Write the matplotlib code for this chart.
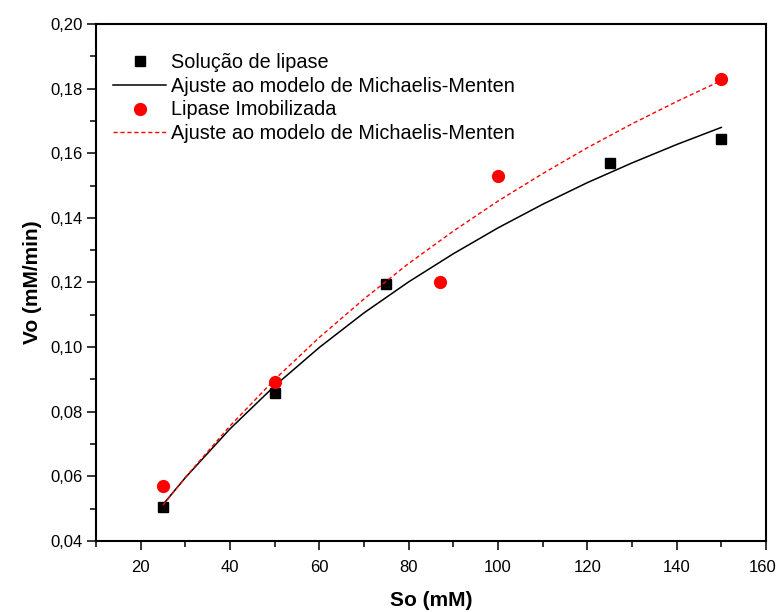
import matplotlib
matplotlib.use("Agg")
import matplotlib.pyplot as plt
from matplotlib.ticker import MultipleLocator, FuncFormatter

plt.rcParams['font.family'] = ['Liberation Sans', 'DejaVu Sans']

# Measured data
so_sol = [25, 50, 75, 125, 150]
vo_sol = [0.0506, 0.0859, 0.1195, 0.1569, 0.1645]

so_imob = [25, 50, 87, 100, 150]
vo_imob = [0.0571, 0.0891, 0.1202, 0.1531, 0.1831]

# Fit curves
fit_x = [25, 30, 40, 50, 60, 70, 80, 90, 100, 110, 120, 130, 140, 150]
fit_sol = [0.0513, 0.0596, 0.0747, 0.0880, 0.0999, 0.1106, 0.1202,
           0.1289, 0.1369, 0.1442, 0.1509, 0.1570, 0.1627, 0.1680]
fit_imob = [0.0511, 0.0597, 0.0756, 0.0900, 0.1030, 0.1149, 0.1259,
            0.1359, 0.1452, 0.1537, 0.1617, 0.1691, 0.1760, 0.1825]

labels = ["Solução de lipase", "Ajuste ao modelo de Michaelis-Menten",
          "Lipase Imobilizada", "Ajuste ao modelo de Michaelis-Menten"]

XMIN, XMAX = 10, 160

fig = plt.figure(figsize=(7.78, 6.12), dpi=100)
ax = fig.add_axes([96/778, 71/612, 670/778, 517/612])

ax.plot(so_sol, vo_sol, linestyle='none', marker='s', markersize=7.8,
        color='black', label=labels[0])
ax.plot(fit_x, fit_sol, color='black', linewidth=1.1, label=labels[1])
ax.plot(so_imob, vo_imob, linestyle='none', marker='o', markersize=8.5,
        color='#ff0000', label=labels[2])
ax.plot(fit_x, fit_imob, color='#ff0000', linewidth=1.0,
        linestyle=(0, (3, 2)), label=labels[3])

ax.set_xlim(XMIN, XMAX)
ax.set_ylim(0.04, 0.20)
ax.xaxis.set_major_locator(MultipleLocator(20))
ax.xaxis.set_minor_locator(MultipleLocator(10))
ax.yaxis.set_major_locator(MultipleLocator(0.02))
ax.yaxis.set_minor_locator(MultipleLocator(0.01))
ax.yaxis.set_major_formatter(FuncFormatter(lambda v, p: f"{v:.2f}".replace('.', ',')))
# the right-most label is drawn separately so it stays inside the canvas
ax.xaxis.set_major_formatter(FuncFormatter(
    lambda v, p: "" if abs(v - XMAX) < 1e-9 else f"{v:.0f}"))

TICK_LEN, XPAD = 6.5, 7
ax.tick_params(which='both', direction='out', top=False, right=False, width=1.1)
ax.tick_params(which='major', length=TICK_LEN, labelsize=12)
ax.tick_params(which='minor', length=4.3)
ax.tick_params(axis='x', pad=XPAD)
ax.tick_params(axis='y', pad=3)
for s in ax.spines.values():
    s.set_linewidth(1.5)

ax.annotate(f"{XMAX}", xy=(XMAX, 0), xycoords=('data', 'axes fraction'),
            xytext=(-2.5, -(TICK_LEN + XPAD)), textcoords='offset points',
            ha='center', va='top', fontsize=12)

ax.set_xlabel("So (mM)", fontsize=15, fontweight='bold', labelpad=12)
ax.set_ylabel("Vo (mM/min)", fontsize=15, fontweight='bold', labelpad=6)

leg = ax.legend(loc='upper left', bbox_to_anchor=(0.025, 0.944), frameon=False,
                fontsize=14.3, handlelength=2.7, handletextpad=0.25,
                labelspacing=0.24, borderpad=0, borderaxespad=0)

fig.savefig("out.png", dpi=100)
